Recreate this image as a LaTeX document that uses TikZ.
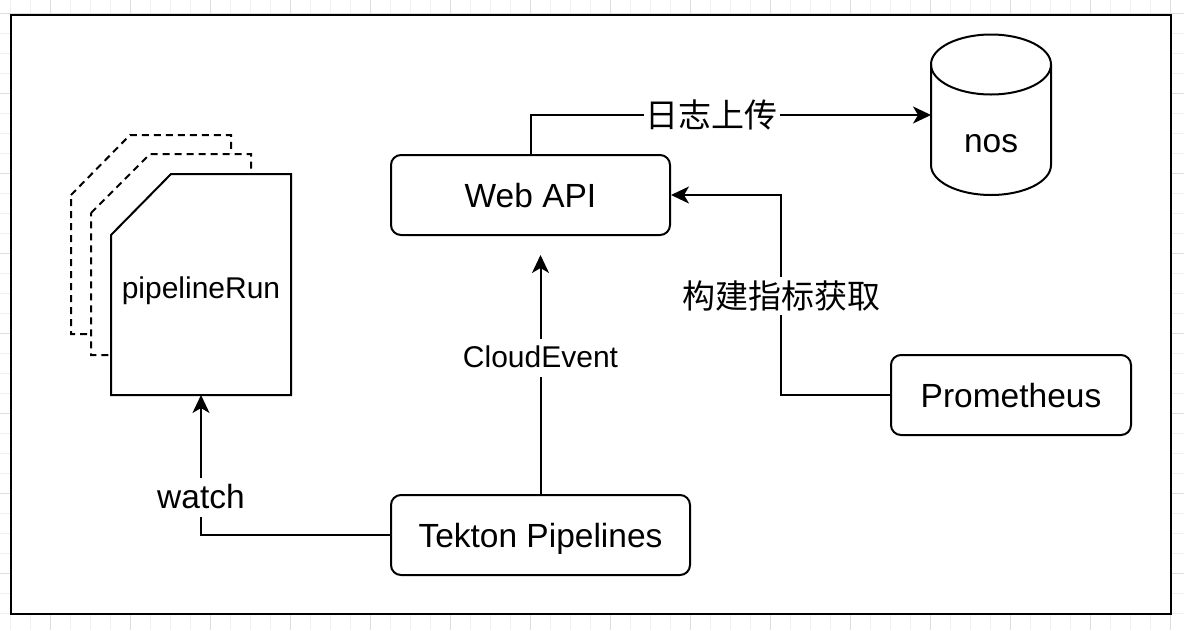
\documentclass[tikz,border=0pt]{standalone}
\usepackage{fontspec}
\setmainfont{Liberation Sans}
\newfontfamily\cjk{Noto Sans CJK SC}
\usetikzlibrary{arrows.meta}
\definecolor{gridminor}{HTML}{F0F0F0}
\definecolor{gridmajor}{HTML}{DDDDDD}
\tikzset{
  boxnode/.style={draw, line width=2pt, rounded corners=10pt, fill=white,
    font=\fontsize{33.5}{40}\selectfont, text height=24pt, text depth=0pt, inner sep=0pt},
  arr/.style={line width=2pt, -{Stealth[length=18pt,width=17pt,inset=5pt]}},
  cardback/.style={draw, line width=2pt, dash pattern=on 7pt off 5pt, fill=white, line join=miter},
  cardfront/.style={draw, line width=2pt, fill=white, line join=miter},
  lblbig/.style={fill=white, font=\fontsize{33.5}{40}\selectfont, text height=29pt, text depth=6pt, inner sep=2pt},
  lblmid/.style={fill=white, font=\fontsize{30}{36}\selectfont, text height=26pt, text depth=8pt, inner sep=2pt},
  lblcjk/.style={fill=white, font=\cjk\fontsize{33}{40}\selectfont, inner xsep=2pt, inner ysep=4pt},
  anchorbox/.style={inner sep=0pt, outer sep=0pt}
}
\begin{document}
\begin{tikzpicture}[x=1pt, y=1pt, yscale=-1]
\useasboundingbox (0,0) rectangle (1184,630);
% background grid
\foreach \x in {10,30,...,1184} \draw[gridminor, line width=1pt] (\x,0) -- (\x,630);
\foreach \y in {13,33,...,630} \draw[gridminor, line width=1pt] (0,\y) -- (1184,\y);
\foreach \x in {50,130,...,1184} \draw[gridmajor, line width=1pt] (\x,0) -- (\x,630);
\foreach \y in {13,93,...,630} \draw[gridmajor, line width=1pt] (0,\y) -- (1184,\y);
% frame
\draw[line width=2pt, fill=white] (11,15) rectangle (1171,614);

% pipelineRun stack
\draw[cardback] (71,195) -- (130,135) -- (231,135) -- (231,334) -- (71,334) -- cycle;
\draw[cardback] (91,213) -- (150,154) -- (251,154) -- (251,355) -- (91,355) -- cycle;
\node[anchorbox, minimum width=180pt, minimum height=221pt] (pr) at (201,284.5) {};
\draw[cardfront] (111,235) -- (171,174) -- (291,174) -- (291,395) -- (111,395) -- cycle;
\node[font=\fontsize{30}{36}\selectfont, text height=21.5pt, text depth=0pt, inner sep=0pt] (prtext) at (201,288) {pipelineRun};

% boxes
\node[boxnode, minimum width=279pt, minimum height=80pt] (webapi) at (530.5,195) {Web API};
\node[boxnode, minimum width=299pt, minimum height=80pt] (tekton) at (540.5,535) {Tekton Pipelines};
\node[boxnode, minimum width=240pt, minimum height=80pt] (prom) at (1011,395) {Prometheus};

% nos cylinder
\node[anchorbox, minimum width=120pt, minimum height=160pt] (nos) at (991,115) {};
\draw[line width=2pt, fill=white] (931,64.5) -- (931,165)
  arc[start angle=180, end angle=0, x radius=60, y radius=30] -- (1051,64.5)
  arc[start angle=0, end angle=-180, x radius=60, y radius=30] -- cycle;
\draw[line width=2pt] (931,64.5) arc[start angle=180, end angle=0, x radius=60, y radius=30];
\node[font=\fontsize{33.5}{40}\selectfont, inner sep=0pt] (nostext) at (991,144) {nos};

% connectors
\coordinate (cetip) at (540.5,255);
\coordinate (pc) at (781,395);
\draw[arr] (webapi.north) |- node[lblcjk, pos=0.726] (lbllog) {日志上传} (nos.west);
\draw[arr] (prom.west) -- (pc) |- node[lblcjk, pos=0.2475] (lblmet) {构建指标获取} (webapi.east);
\draw[arr] (tekton.north) -- node[lblmid, pos=0.567] (lblce) {CloudEvent} (cetip);
\draw[arr] (tekton.west) -| node[lblbig, pos=0.634] (lblwatch) {watch} (pr.south);
\end{tikzpicture}
\end{document}
